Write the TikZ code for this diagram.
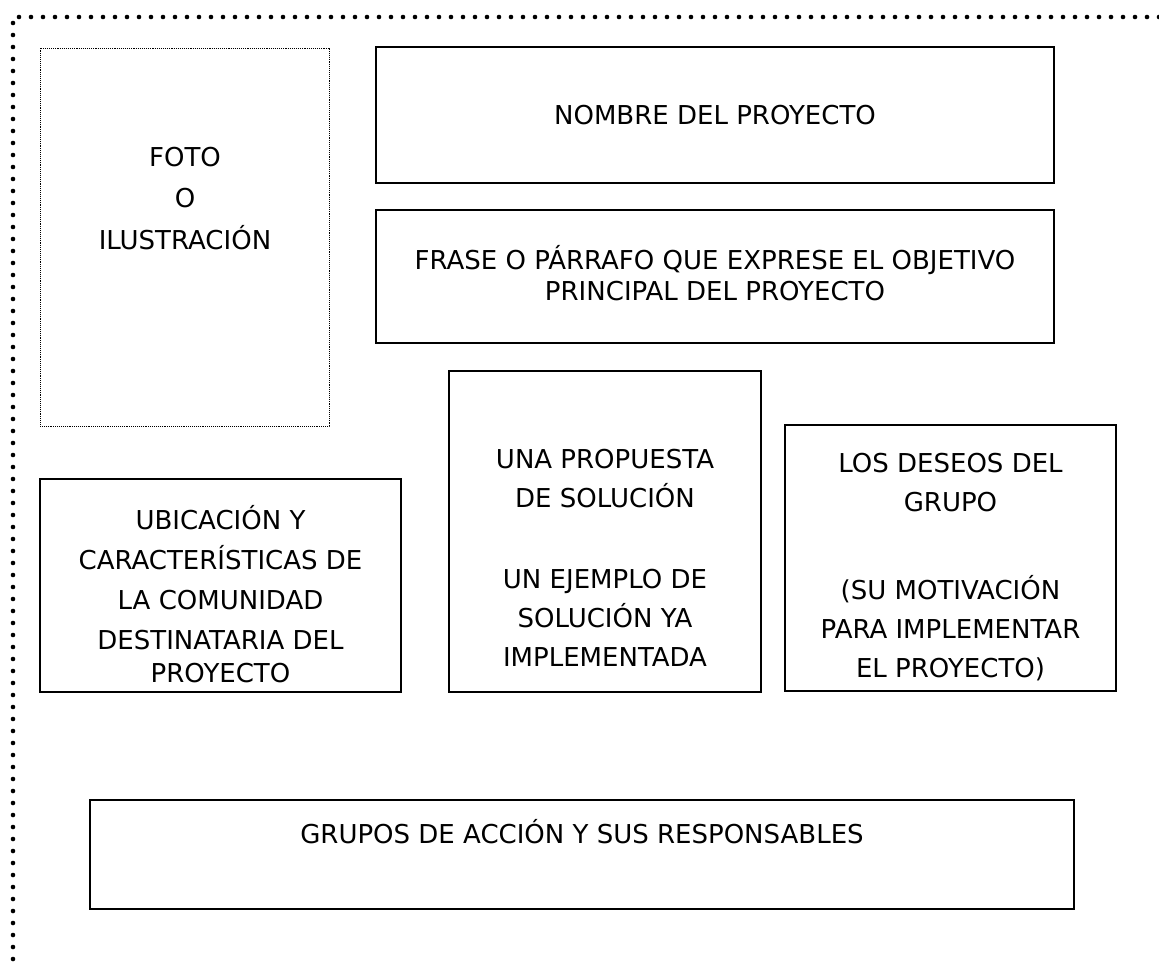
\documentclass[tikz,border=0pt]{standalone}
\usepackage{fontspec}
\setmainfont{DejaVu Sans}
\tikzset{
  caja/.style={draw, line width=1.6pt, inner sep=0pt},
  cajafoto/.style={draw, densely dotted, line width=0.9pt, inner sep=0pt},
  texto/.style={align=center, inner sep=0pt, font=\fontsize{26}{40}\selectfont},
  borde/.style={line width=4.6pt, dash pattern=on 0pt off 12pt, line cap=round}
}
\begin{document}
\begin{tikzpicture}[x=1pt,y=-1pt]
    \useasboundingbox (0,0) rectangle (1159,964);
    % marco punteado
    \coordinate (esq) at (13,17);
    \coordinate (der) at (1159,17);
    \coordinate (abj) at (13,964);
    \draw[borde] (der) -- (esq) -- (abj);

    % foto
    \node[cajafoto, minimum width=289, minimum height=378] (foto) at (184.5,237) {};
    \node[texto, font=\fontsize{26}{41.5}\selectfont] (fototxt) at (185,198.5) {FOTO\\O\\ILUSTRACIÓN};

    % nombre y frase
    \node[caja, minimum width=678, minimum height=136] (nombre) at (715,115) {};
    \node[texto] (nombretxt) at (nombre) {NOMBRE DEL PROYECTO};

    \node[caja, minimum width=678, minimum height=133] (frase) at (715,276.5) {};
    \node[texto, font=\fontsize{26}{31}\selectfont] (frasetxt) at (715,273) {FRASE O PÁRRAFO QUE EXPRESE EL OBJETIVO\\PRINCIPAL DEL PROYECTO};

    % fila del medio
    \node[caja, minimum width=361, minimum height=213] (ubicacion) at (220.5,585.5) {};
    \node[texto] (ubicaciontxt) at (220.5,594.5) {UBICACIÓN Y\\CARACTERÍSTICAS DE\\LA COMUNIDAD\\DESTINATARIA DEL\\[-7pt]PROYECTO};

    \node[caja, minimum width=312, minimum height=321] (propuesta) at (605,531.5) {};
    \node[texto, font=\fontsize{26}{39}\selectfont] (propuestatxt) at (605,558) {UNA PROPUESTA\\DE SOLUCIÓN\\[42pt]UN EJEMPLO DE\\SOLUCIÓN YA\\IMPLEMENTADA};

    \node[caja, minimum width=331, minimum height=266] (deseos) at (950.5,558) {};
    \node[texto, font=\fontsize{26}{39}\selectfont] (deseostxt) at (950.5,567.5) {LOS DESEOS DEL\\GRUPO\\[49pt](SU MOTIVACIÓN\\PARA IMPLEMENTAR\\EL PROYECTO)};

    % grupos
    \node[caja, minimum width=984, minimum height=109] (grupos) at (582,854.5) {};
    \node[texto] (grupostxt) at (582,832) {GRUPOS DE ACCIÓN Y SUS RESPONSABLES};
\end{tikzpicture}
\end{document}
